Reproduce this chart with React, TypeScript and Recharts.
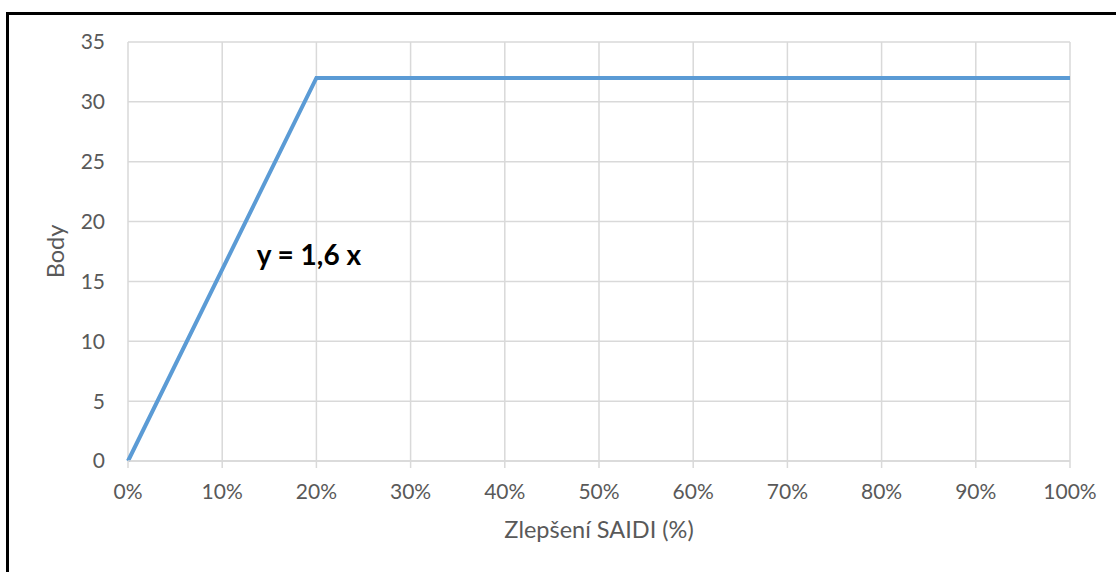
import React from "react"
import {
  LineChart,
  Line,
  XAxis,
  YAxis,
  CartesianGrid,
  ReferenceDot,
} from "recharts"

// improvement of SAIDI in %, points awarded
const improvement = [0, 20, 100]
const points = [0, 32, 32]

const xTicks = [0, 10, 20, 30, 40, 50, 60, 70, 80, 90, 100]
const yTicks = [0, 5, 10, 15, 20, 25, 30, 35]

const equationLabel = "y = 1,6 x"
const equationAt = { x: 19.2, y: 17.2 }

const data = improvement.map((x, i) => ({ x, body: points[i] }))

const FONT = "Lato, 'Open Sans', sans-serif"
const GREY = "#595959"
const GRID = "#d9d9d9"

export default function App() {
  return (
    <div
      style={{
        position: "absolute",
        left: 0,
        top: 0,
        width: 1116,
        height: 572,
        background: "#fff",
        overflow: "hidden",
      }}
    >
      <div
        style={{
          position: "absolute",
          left: 6,
          top: 12,
          width: 1200,
          height: 700,
          borderTop: "3px solid #000",
          borderLeft: "3px solid #000",
        }}
      />
      <LineChart
        width={1116}
        height={572}
        data={data}
        margin={{ top: 42, right: 46, bottom: 31, left: 0 }}
        style={{ position: "absolute", left: 0, top: 0, fontFamily: FONT }}
      >
        <CartesianGrid stroke={GRID} strokeWidth={1.5} />
        <XAxis
          dataKey="x"
          type="number"
          domain={[0, 100]}
          ticks={xTicks}
          tickFormatter={(v) => `${v}%`}
          height={80}
          axisLine={{ stroke: GRID, strokeWidth: 1.5 }}
          tickLine={{ stroke: GRID, strokeWidth: 1.5 }}
          tickSize={7}
          tickMargin={16}
          tick={{ fill: GREY, fontSize: 21, fontFamily: FONT }}
          interval={0}
          label={{
            value: "Zlepšení SAIDI (%)",
            position: "insideBottom",
            offset: 3,
            fill: GREY,
            fontSize: 23.5,
            fontFamily: FONT,
          }}
        />
        <YAxis
          type="number"
          domain={[0, 35]}
          ticks={yTicks}
          width={128}
          axisLine={false}
          tickLine={false}
          tickSize={0}
          tickMargin={23}
          tick={{ fill: GREY, fontSize: 21, fontFamily: FONT }}
          interval={0}
          label={{
            value: "Body",
            angle: -90,
            position: "insideLeft",
            offset: 56,
            fill: GREY,
            fontSize: 23.5,
            fontFamily: FONT,
            style: { textAnchor: "middle" },
          }}
        />
        <Line
          type="linear"
          dataKey="body"
          stroke="#5B9BD5"
          strokeWidth={4}
          dot={false}
          activeDot={false}
          isAnimationActive={false}
        />
        <ReferenceDot
          x={equationAt.x}
          y={equationAt.y}
          r={0}
          fill="none"
          stroke="none"
          label={{
            value: equationLabel,
            position: "center",
            fill: "#000",
            fontSize: 28,
            fontWeight: 700,
            fontFamily: FONT,
          }}
        />
      </LineChart>
    </div>
  )
}
